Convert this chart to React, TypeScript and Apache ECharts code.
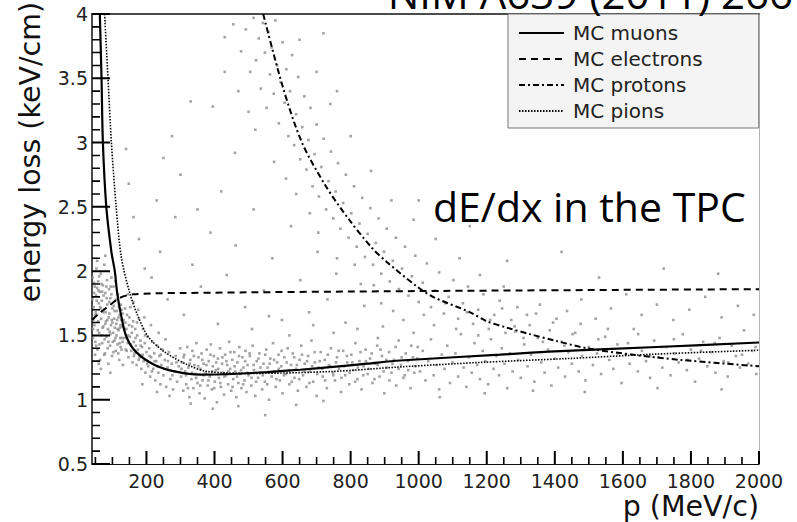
import React, { useEffect, useRef } from "react";
import * as echarts from "echarts";

// ---- axis ticks ----
const xMajorTicks = [200, 400, 600, 800, 1000, 1200, 1400, 1600, 1800, 2000];
const xMinorTicks = [
  50, 100, 150, 250, 300, 350, 450, 500, 550, 650, 700, 750, 850, 900, 950, 1050, 1100, 1150,
  1250, 1300, 1350, 1450, 1500, 1550, 1650, 1700, 1750, 1850, 1900, 1950,
];
const yMajorTicks = [0.5, 1, 1.5, 2, 2.5, 3, 3.5, 4];
const yMinorTicks = [
  0.6, 0.7, 0.8, 0.9, 1.1, 1.2, 1.3, 1.4, 1.6, 1.7, 1.8, 1.9, 2.1, 2.2, 2.3, 2.4,
  2.6, 2.7, 2.8, 2.9, 3.1, 3.2, 3.3, 3.4, 3.6, 3.7, 3.8, 3.9,
];

// ---- MC curves [p (MeV/c), dE/dx (keV/cm)] ----
const muonCurve = [
  [63, 4.0], [68, 3.5], [72, 3.0], [82, 2.5], [97, 2.15], [107, 2.0], [114, 1.83], [126, 1.65],
  [141, 1.49], [170, 1.37], [224, 1.27], [283, 1.22], [360, 1.195], [454, 1.2], [554, 1.215],
  [651, 1.233], [748, 1.255], [848, 1.28], [945, 1.305], [1239, 1.35], [1400, 1.376],
  [1700, 1.41], [2000, 1.445],
];
const electronCurve = [
  [40, 1.62], [60, 1.67], [90, 1.73], [120, 1.79], [160, 1.82], [300, 1.83], [1000, 1.845], [2000, 1.86],
];
const protonCurve = [
  [543, 4.0], [601, 3.43], [657, 3.0], [725, 2.67], [790, 2.42], [863, 2.18], [907, 2.07],
  [995, 1.88], [1042, 1.8], [1151, 1.68], [1200, 1.61], [1260, 1.56], [1327, 1.51], [1400, 1.46],
  [1495, 1.4], [1630, 1.35], [1768, 1.31], [2000, 1.26],
];
const pionCurve = [
  [77, 4.0], [87, 3.5], [97, 3.0], [111, 2.5], [126, 2.11], [151, 1.83], [175, 1.65], [205, 1.49],
  [254, 1.37], [322, 1.27], [378, 1.22], [513, 1.205], [748, 1.22], [945, 1.255], [1180, 1.29],
  [1436, 1.32], [1700, 1.355], [2000, 1.385],
];

// ---- measured tracks (scatter) [p, dE/dx] ----
const lowMomentumCloud = [
  [42, 1.95], [45, 1.72], [47, 1.58], [48, 1.88], [50, 1.45], [52, 1.81], [53, 2.02], [55, 1.66], [56, 1.39],
  [58, 1.92], [60, 1.75], [61, 1.52], [63, 1.84], [64, 1.31], [66, 1.98], [67, 1.63], [69, 1.77], [70, 1.44],
  [72, 1.89], [73, 1.57], [75, 1.7], [76, 2.05], [78, 1.36], [79, 1.83], [81, 1.61], [82, 1.49], [84, 1.93],
  [85, 1.74], [87, 1.55], [88, 1.28], [90, 1.86], [91, 1.67], [93, 1.42], [94, 1.79], [96, 1.58], [97, 1.95],
  [99, 1.34], [100, 1.71], [102, 1.52], [103, 1.88], [105, 1.63], [106, 1.46], [108, 1.77], [110, 1.38],
  [111, 1.59], [113, 1.69], [115, 1.43], [116, 1.82], [118, 1.54], [120, 1.31], [121, 1.66], [123, 1.48],
  [125, 1.74], [127, 1.39], [129, 1.57], [131, 1.27], [44, 1.62], [46, 1.91], [49, 1.35], [51, 1.68],
  [54, 1.77], [57, 1.54], [59, 1.85], [62, 1.43], [65, 1.71], [68, 1.9], [71, 1.56], [74, 1.81], [77, 1.47],
  [80, 1.68], [83, 1.79], [86, 1.4], [89, 1.64], [92, 1.53], [95, 1.88], [98, 1.62], [101, 1.45], [104, 1.73],
  [107, 1.56], [109, 1.92], [112, 1.5], [114, 1.62], [117, 1.36], [119, 1.72], [122, 1.56], [124, 1.41],
  [126, 1.62], [128, 1.48], [130, 1.67], [43, 1.48], [55, 2.08], [66, 1.24], [79, 2.12], [94, 1.21], [60, 1.28],
  [41, 1.78], [43, 1.55], [46, 1.83], [49, 1.66], [52, 1.42], [55, 1.87], [58, 1.61], [61, 1.96], [64, 1.72],
  [67, 1.5], [70, 1.84], [73, 1.68], [76, 1.35], [79, 1.59], [82, 1.88], [85, 1.62], [88, 1.45], [91, 1.76],
  [94, 1.51], [97, 1.82], [100, 1.6], [103, 1.37], [106, 1.69], [109, 1.48], [112, 1.78], [115, 1.55],
  [118, 1.64], [121, 1.44], [124, 1.58], [127, 1.7], [130, 1.45],
];
const transitionBand = [
  [133, 1.62], [135, 1.48], [137, 1.71], [139, 1.39], [141, 1.55], [143, 1.66], [145, 1.44], [147, 1.33],
  [149, 1.58], [151, 1.49], [153, 1.72], [155, 1.38], [157, 1.52], [159, 1.29], [161, 1.61], [163, 1.45],
  [165, 1.36], [167, 1.55], [169, 1.42], [171, 1.27], [173, 1.5], [175, 1.39], [178, 1.63], [180, 1.33],
  [182, 1.46], [185, 1.24], [187, 1.41], [190, 1.55], [192, 1.3], [195, 1.44], [197, 1.21], [200, 1.37],
  [203, 1.49], [205, 1.26], [208, 1.4], [211, 1.18], [214, 1.33], [217, 1.45], [220, 1.24], [223, 1.36],
  [226, 1.15], [229, 1.3], [232, 1.42], [235, 1.21], [238, 1.34], [241, 1.12], [244, 1.27], [247, 1.39],
  [250, 1.19], [254, 1.31], [258, 1.1], [262, 1.25], [266, 1.37], [270, 1.16], [274, 1.28], [278, 1.08],
  [282, 1.22], [286, 1.34], [290, 1.14], [295, 1.26], [299, 1.4], [146, 1.82], [162, 1.76], [176, 1.7],
  [194, 1.64], [213, 1.58], [236, 1.52], [256, 1.47], [188, 1.12], [231, 1.06], [268, 1.03],
  [134, 1.55], [138, 1.6], [142, 1.38], [146, 1.5], [150, 1.64], [154, 1.43], [158, 1.57], [163, 1.34],
  [168, 1.48], [172, 1.6], [177, 1.31], [183, 1.42], [189, 1.35], [196, 1.5], [202, 1.28], [209, 1.34],
  [216, 1.22], [224, 1.3], [233, 1.26], [242, 1.35], [252, 1.24], [263, 1.3], [276, 1.19], [288, 1.29],
];
const mipBandLow = [
  [302, 1.18], [305, 1.29], [308, 1.07], [311, 1.35], [314, 1.22], [317, 1.12], [320, 1.41], [323, 1.25],
  [326, 1.02], [329, 1.31], [332, 1.16], [335, 1.38], [338, 1.09], [341, 1.27], [344, 1.2], [347, 1.44],
  [350, 1.13], [353, 1.33], [356, 1.05], [359, 1.24], [362, 1.36], [365, 1.15], [368, 1.28], [371, 1.01],
  [374, 1.21], [377, 1.39], [380, 1.11], [383, 1.3], [386, 1.18], [389, 1.43], [392, 1.08], [395, 1.26],
  [398, 1.34], [401, 1.14], [404, 1.23], [407, 0.98], [410, 1.32], [413, 1.17], [416, 1.4], [419, 1.1],
  [422, 1.28], [425, 1.21], [428, 1.04], [431, 1.35], [434, 1.19], [437, 1.27], [440, 1.12], [443, 1.45],
  [446, 1.24], [449, 1.07], [452, 1.31], [455, 1.16], [458, 1.37], [461, 1.22], [464, 1.02], [467, 1.29],
  [470, 1.13], [473, 1.41], [476, 1.2], [479, 1.09], [482, 1.33], [485, 1.25], [488, 1.15], [491, 1.38],
  [494, 1.06], [497, 1.27], [500, 1.19], [504, 1.34], [508, 1.11], [512, 1.42], [516, 1.23], [520, 1.03],
  [524, 1.3], [528, 1.17], [532, 1.36], [536, 1.21], [540, 1.08], [544, 1.28], [548, 1.14], [552, 1.39],
  [556, 1.25], [560, 1.0], [564, 1.32], [568, 1.18], [572, 1.44], [576, 1.22], [580, 1.1], [584, 1.29],
  [588, 1.35], [592, 1.15], [596, 1.26], [600, 1.05], [395, 0.93], [470, 0.95], [549, 0.88], [330, 0.97],
];
const mipBandMid = [
  [605, 1.33], [610, 1.2], [615, 1.4], [620, 1.12], [625, 1.27], [630, 1.36], [635, 1.17], [640, 1.24],
  [645, 1.07], [650, 1.31], [655, 1.42], [660, 1.19], [665, 1.28], [670, 1.1], [675, 1.34], [680, 1.22],
  [685, 1.46], [690, 1.14], [695, 1.29], [700, 1.03], [706, 1.25], [712, 1.37], [718, 1.18], [724, 1.31],
  [730, 1.09], [736, 1.27], [742, 1.4], [748, 1.21], [754, 1.15], [760, 1.33], [766, 1.24], [772, 1.06],
  [778, 1.38], [784, 1.19], [790, 1.29], [796, 1.12], [802, 1.35], [808, 1.23], [814, 1.44], [820, 1.16],
  [826, 1.3], [832, 1.08], [838, 1.26], [844, 1.39], [850, 1.2], [857, 1.32], [864, 1.13], [871, 1.28],
  [878, 1.42], [885, 1.18], [892, 1.34], [899, 1.05], [906, 1.25], [913, 1.37], [920, 1.21], [927, 1.31],
  [934, 1.11], [941, 1.46], [948, 1.27], [955, 1.17], [962, 1.36], [969, 1.23], [976, 1.09], [983, 1.33],
  [990, 1.26], [997, 1.41], [640, 0.96], [720, 0.99],
];
const mipBandDense = [
  [303, 1.24], [309, 1.33], [316, 1.19], [322, 1.09], [327, 1.28], [334, 1.21], [339, 1.34], [346, 1.17],
  [352, 1.26], [358, 1.11], [364, 1.31], [369, 1.19], [376, 1.27], [382, 1.15], [388, 1.35], [393, 1.22],
  [399, 1.09], [405, 1.29], [411, 1.24], [417, 1.13], [423, 1.33], [429, 1.18], [435, 1.3], [441, 1.22],
  [447, 1.37], [453, 1.1], [459, 1.26], [466, 1.18], [472, 1.34], [478, 1.23], [484, 1.12], [490, 1.3],
  [496, 1.21], [503, 1.36], [509, 1.17], [515, 1.27], [522, 1.14], [529, 1.32], [535, 1.25], [542, 1.19],
  [549, 1.35], [555, 1.12], [562, 1.28], [569, 1.21], [575, 1.31], [582, 1.16], [589, 1.24], [597, 1.38],
  [604, 1.19], [612, 1.29], [619, 1.23], [627, 1.14], [634, 1.33], [642, 1.27], [649, 1.16], [657, 1.35],
  [664, 1.22], [672, 1.3], [679, 1.13], [687, 1.26], [694, 1.37], [702, 1.2], [709, 1.3], [717, 1.24],
  [725, 1.15], [733, 1.35], [741, 1.26], [749, 1.19], [757, 1.29], [765, 1.38], [773, 1.17], [781, 1.26],
  [789, 1.34], [797, 1.21], [805, 1.29], [813, 1.14], [821, 1.25], [829, 1.37], [837, 1.19], [845, 1.3],
  [853, 1.24], [862, 1.36], [870, 1.16], [879, 1.27], [888, 1.39], [897, 1.22], [905, 1.31], [914, 1.15],
  [923, 1.28], [932, 1.41], [941, 1.24], [950, 1.33], [959, 1.19], [968, 1.3], [978, 1.42], [987, 1.21],
  [996, 1.32],
];
const mipBandHigh = [
  [1004, 1.22], [1012, 1.38], [1020, 1.15], [1028, 1.3], [1036, 1.47], [1044, 1.19], [1052, 1.27], [1060, 1.08],
  [1068, 1.35], [1076, 1.24], [1084, 1.42], [1092, 1.13], [1100, 1.29], [1108, 1.36], [1116, 1.18], [1124, 1.51],
  [1132, 1.25], [1140, 1.1], [1148, 1.33], [1156, 1.21], [1164, 1.44], [1172, 1.27], [1180, 1.16], [1188, 1.38],
  [1196, 1.3], [1204, 1.12], [1212, 1.47], [1220, 1.24], [1228, 1.34], [1236, 1.19], [1244, 1.4], [1252, 1.28],
  [1260, 1.09], [1268, 1.36], [1276, 1.22], [1284, 1.53], [1292, 1.31], [1300, 1.17], [1310, 1.43], [1320, 1.26],
  [1330, 1.35], [1340, 1.14], [1350, 1.48], [1360, 1.29], [1370, 1.21], [1380, 1.39], [1390, 1.11], [1400, 1.32],
  [1410, 1.25], [1420, 1.45], [1430, 1.18], [1440, 1.37], [1450, 1.28], [1460, 1.52], [1470, 1.22], [1480, 1.34],
  [1490, 1.15], [1500, 1.41], [1512, 1.27], [1524, 1.36], [1536, 1.2], [1548, 1.49], [1560, 1.31], [1572, 1.24],
  [1584, 1.43], [1596, 1.13], [1608, 1.35], [1620, 1.28], [1632, 1.55], [1644, 1.22], [1656, 1.38], [1668, 1.3],
  [1680, 1.17], [1692, 1.46], [1704, 1.33], [1716, 1.25], [1728, 1.41], [1740, 1.19], [1752, 1.36], [1764, 1.29],
  [1776, 1.51], [1788, 1.23], [1800, 1.39], [1812, 1.14], [1824, 1.32], [1836, 1.45], [1848, 1.26], [1860, 1.37],
  [1872, 1.21], [1884, 1.48], [1896, 1.3], [1908, 1.18], [1920, 1.42], [1932, 1.34], [1944, 1.25], [1956, 1.54],
  [1968, 1.28], [1980, 1.38], [1992, 1.2], [1062, 1.02], [1194, 1.05], [1336, 1.07], [1488, 1.06], [1702, 1.09],
  [1890, 1.08],
];
const protonBand = [
  [455, 3.92], [478, 3.71], [492, 3.88], [505, 3.55], [515, 3.97], [522, 3.64], [530, 3.81], [536, 3.42],
  [542, 3.93], [548, 3.7], [553, 3.27], [558, 3.86], [563, 3.53], [568, 3.74], [574, 3.38], [579, 3.95],
  [584, 3.6], [589, 3.15], [594, 3.47], [600, 3.78], [606, 3.31], [611, 3.57], [617, 3.05], [622, 3.4],
  [628, 3.68], [634, 2.98], [640, 3.22], [646, 3.51], [652, 2.87], [658, 3.12], [664, 3.36], [670, 2.79],
  [676, 3.02], [682, 3.27], [688, 2.66], [694, 2.91], [700, 3.14], [707, 2.58], [714, 2.81], [721, 3.03],
  [728, 2.48], [735, 2.7], [742, 2.93], [749, 2.41], [756, 2.62], [763, 2.84], [770, 2.33], [778, 2.53],
  [786, 2.75], [794, 2.26], [802, 2.45], [810, 2.66], [818, 2.19], [826, 2.37], [834, 2.57], [842, 2.11],
  [850, 2.29], [858, 2.49], [866, 2.05], [874, 2.22], [882, 2.41], [890, 1.98], [898, 2.15], [906, 2.33],
  [915, 1.92], [924, 2.08], [933, 2.26], [942, 1.86], [951, 2.02], [960, 2.19], [970, 1.81], [980, 1.96],
  [990, 2.12], [1000, 1.76], [1012, 1.91], [1024, 2.06], [1036, 1.72], [1048, 1.85], [1060, 1.99], [1074, 1.67],
  [1088, 1.8], [1102, 1.93], [1116, 1.63], [1130, 1.75], [1145, 1.88], [1160, 1.59], [1175, 1.7], [1190, 1.82],
  [1206, 1.55], [1222, 1.66], [1238, 1.77], [1255, 1.52], [1272, 1.62], [1290, 1.72], [1308, 1.48], [1326, 1.58],
  [1345, 1.67], [1365, 1.45], [1385, 1.54], [1405, 1.63], [1428, 1.42], [1452, 1.51], [1476, 1.59], [1500, 1.39],
  [1528, 1.47], [1556, 1.55], [1585, 1.36], [1615, 1.44], [1645, 1.51], [1680, 1.34], [1715, 1.41], [1750, 1.47],
  [1790, 1.31], [1830, 1.38], [1870, 1.44], [1910, 1.29], [1950, 1.35], [1990, 1.41], [430, 3.55], [395, 3.28],
  [470, 3.4], [520, 3.1], [575, 2.85], [640, 2.6], [705, 2.3], [760, 2.1], [830, 1.9], [890, 1.75], [430, 3.82],
  [500, 3.24], [610, 2.72], [680, 2.45], [740, 3.3], [800, 3.05], [860, 2.78], [920, 2.55], [985, 2.4],
  [1050, 2.25], [1120, 2.1], [1180, 1.97], [1250, 1.88], [700, 3.55], [760, 3.4], [650, 3.8], [720, 3.85],
];
const sparseTracks = [
  [215, 1.95], [240, 2.15], [262, 1.78], [285, 2.42], [310, 1.66], [335, 2.05], [360, 1.88], [388, 2.3],
  [410, 1.59], [436, 1.97], [462, 2.2], [490, 1.72], [515, 2.48], [545, 1.85], [570, 2.1], [598, 1.62],
  [625, 2.35], [652, 1.93], [678, 1.68], [703, 2.15], [732, 1.78], [758, 1.98], [785, 1.6], [812, 2.05],
  [840, 1.73], [868, 1.89], [895, 1.57], [925, 1.69], [955, 1.62], [985, 1.52], [1015, 1.66], [1045, 1.58],
  [1078, 1.75], [1110, 1.55], [1142, 1.68], [1175, 1.5], [1210, 1.62], [1245, 1.71], [1282, 1.57], [1318, 1.66],
  [1356, 1.74], [1395, 1.6], [1436, 1.69], [1478, 1.78], [1520, 1.63], [1565, 1.71], [1610, 1.82], [1655, 1.66],
  [1700, 1.74], [1748, 1.62], [1795, 1.7], [1842, 1.8], [1890, 1.64], [1938, 1.73], [1985, 1.66], [230, 2.55],
  [300, 2.75], [350, 2.48], [420, 2.62], [275, 3.05], [330, 3.32], [250, 2.88], [460, 2.92], [195, 2.02],
  [178, 2.25], [162, 2.42], [148, 2.68], [140, 2.95], [510, 1.55], [560, 1.65], [620, 1.5], [690, 1.58],
  [750, 1.52], [820, 1.55], [880, 1.48], [1530, 1.95], [1720, 2.02], [1880, 1.98], [1420, 2.15], [1260, 2.08],
  [1000, 2.55], [1150, 2.35],
];

const AXIS_FONT = "'DejaVu Sans', sans-serif";
const SLIDE_FONT = "'Open Sans', sans-serif";
const X_MIN = 40;
const X_MAX = 2000;
const Y_MIN = 0.5;
const Y_MAX = 4;
const GRID = { left: 92, top: 14, right: 38, bottom: 58 };
const PLOT_W = 797 - GRID.left - GRID.right;
const PLOT_H = 522 - GRID.top - GRID.bottom;

export default function App() {
  const ref = useRef<HTMLDivElement>(null);

  useEffect(() => {
    if (!ref.current) return;
    const chart = echarts.init(ref.current, null, { renderer: "svg" });

    const scatterData = [
      ...lowMomentumCloud,
      ...transitionBand,
      ...mipBandLow,
      ...mipBandMid,
      ...mipBandDense,
      ...mipBandHigh,
      ...protonBand,
      ...sparseTracks,
    ];

    // tick lengths in pixels converted to data units of the perpendicular axis
    const yPerPx = (Y_MAX - Y_MIN) / PLOT_H;
    const xPerPx = (X_MAX - X_MIN) / PLOT_W;
    const xTickSegments = (values: number[], px: number) =>
      values.flatMap((v) => [[v, Y_MIN], [v, Y_MIN + px * yPerPx], [v, NaN]]);
    const yTickSegments = (values: number[], px: number) =>
      values.flatMap((v) => [[X_MIN, v], [X_MIN + px * xPerPx, v], [NaN, v]]);

    const tickSeries = (name: string, data: number[][], width: number) => ({
      name,
      type: "line",
      data,
      showSymbol: false,
      symbol: "none",
      connectNulls: false,
      silent: true,
      clip: false,
      z: 6,
      lineStyle: { color: "#000", width, type: "solid" },
      itemStyle: { color: "#000" },
    });

    const lineSeries = (name: string, data: number[][], type: any, width: number) => ({
      name,
      type: "line",
      data,
      showSymbol: false,
      symbol: "none",
      smooth: 0.3,
      z: 5,
      lineStyle: { color: "#000", width, type },
      itemStyle: { color: "#000" },
    });

    const hidden = { show: false };

    chart.setOption({
      animation: false,
      backgroundColor: "#fff",
      grid: GRID,
      xAxis: [
        {
          type: "value",
          min: X_MIN,
          max: X_MAX,
          position: "bottom",
          splitNumber: 10,
          axisLine: { show: true, lineStyle: { color: "#111", width: 1.2 } },
          axisTick: hidden,
          axisLabel: {
            show: true,
            showMinLabel: false,
            formatter: (v: number) => String(v),
            margin: 7,
            fontFamily: AXIS_FONT,
            fontSize: 19,
            color: "#222",
          },
          splitLine: hidden,
        },
        {
          type: "value",
          min: X_MIN,
          max: X_MAX,
          position: "top",
          axisLine: { show: true, lineStyle: { color: "#111", width: 1.5 } },
          axisTick: hidden,
          axisLabel: hidden,
          splitLine: hidden,
        },
      ],
      yAxis: [
        {
          type: "value",
          min: Y_MIN,
          max: Y_MAX,
          interval: 0.5,
          axisLine: { show: true, lineStyle: { color: "#111", width: 1.5 } },
          axisTick: hidden,
          axisLabel: { margin: 4, fontFamily: AXIS_FONT, fontSize: 19, color: "#222" },
          splitLine: hidden,
        },
        {
          type: "value",
          min: Y_MIN,
          max: Y_MAX,
          position: "right",
          axisLine: { show: true, lineStyle: { color: "#b5b5b5", width: 1 } },
          axisTick: hidden,
          axisLabel: hidden,
          splitLine: hidden,
        },
      ],
      legend: {
        data: ["MC muons", "MC electrons", "MC protons", "MC pions"],
        orient: "vertical",
        left: 508,
        top: 14,
        padding: [9, 56, 7, 10],
        itemGap: 6,
        itemWidth: 45,
        itemHeight: 14,
        itemStyle: { opacity: 0 },
        backgroundColor: "#f4f4f4",
        borderColor: "#777",
        borderWidth: 1,
        borderRadius: 0,
        textStyle: { fontFamily: AXIS_FONT, fontSize: 20, lineHeight: 20, color: "#222", padding: [0, 0, 0, 4] },
        z: 10,
      },
      graphic: [
        {
          type: "text",
          x: 793,
          y: 13,
          style: {
            text: "NIM A639 (2011) 266",
            fontFamily: SLIDE_FONT,
            fontSize: 42,
            fill: "#000",
            align: "right",
            verticalAlign: "bottom",
          },
          z: 20,
        },
        {
          type: "text",
          x: 433,
          y: 206,
          style: {
            text: "dE/dx in the TPC",
            fontFamily: SLIDE_FONT,
            fontSize: 41,
            fill: "#000",
            align: "left",
            verticalAlign: "middle",
          },
          z: 20,
        },
        {
          type: "text",
          x: 30,
          y: 152,
          rotation: Math.PI / 2,
          style: {
            text: "energy loss (keV/cm)",
            fontFamily: AXIS_FONT,
            fontSize: 28.5,
            fill: "#111",
            align: "center",
            verticalAlign: "middle",
          },
          z: 20,
        },
        {
          type: "text",
          x: 759,
          y: 506,
          style: {
            text: "p (MeV/c)",
            fontFamily: AXIS_FONT,
            fontSize: 28.5,
            fill: "#111",
            align: "right",
            verticalAlign: "middle",
          },
          z: 20,
        },
      ],
      series: [
        {
          name: "tracks",
          type: "scatter",
          data: scatterData,
          symbol: "rect",
          symbolSize: 2.6,
          itemStyle: { color: "#8c8c8c" },
          z: 2,
          silent: true,
        },
        lineSeries("MC muons", muonCurve, "solid", 2.2),
        lineSeries("MC electrons", electronCurve, [7, 5], 2),
        lineSeries("MC protons", protonCurve, [6, 3, 2, 3], 2),
        lineSeries("MC pions", pionCurve, [1.5, 1.5], 1.6),
        tickSeries("x major ticks", xTickSegments(xMajorTicks, 13), 2),
        tickSeries("x minor ticks", xTickSegments(xMinorTicks, 7), 1.6),
        tickSeries("y major ticks", yTickSegments(yMajorTicks, 18), 2),
        tickSeries("y minor ticks", yTickSegments(yMinorTicks, 8), 1.6),
      ],
    });

    return () => chart.dispose();
  }, []);

  return (
    <div
      ref={ref}
      style={{ position: "absolute", left: 0, top: 0, width: 797, height: 522 }}
    />
  );
}
